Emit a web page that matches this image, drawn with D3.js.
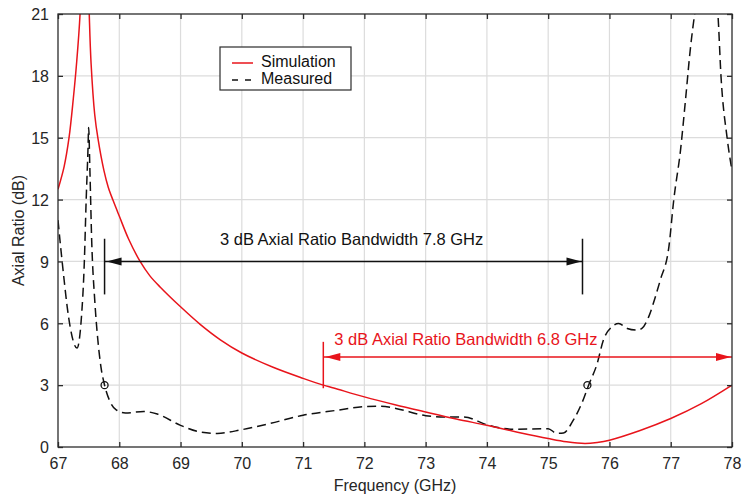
<!DOCTYPE html>
<html>
<head>
<meta charset="utf-8">
<script src="https://cdn.jsdelivr.net/npm/d3@7"></script>
<style>
  html, body { margin: 0; padding: 0; background: #fff; }
  svg { display: block; font-family: "Liberation Sans", Arial, sans-serif; }
</style>
</head>
<body>
<div id="chart"></div>
<script>
'use strict';

// frequency (GHz), axial ratio (dB)
const simFreq = [67.0, 67.1, 67.18, 67.25, 67.3, 67.36, 67.4, 67.44, 67.48, 67.51, 67.54, 67.6, 67.65, 67.75, 67.82, 67.9, 68.0, 68.15, 68.34, 68.5, 68.67, 69.0, 69.32, 69.65, 70.0, 70.5, 71.0, 71.33, 71.5, 72.0, 72.5, 73.0, 73.5, 74.0, 74.5, 75.0, 75.3, 75.6, 75.8, 76.0, 76.5, 77.0, 77.5, 78.0];
const simAR = [12.5, 13.6, 15.0, 16.9, 18.5, 21.0, 25.0, 28.0, 24.5, 21.0, 18.6, 16.1, 15.0, 13.4, 12.6, 11.95, 11.2, 10.1, 9.0, 8.3, 7.75, 6.8, 5.95, 5.2, 4.56, 3.88, 3.33, 3.0, 2.86, 2.43, 2.05, 1.7, 1.36, 1.05, 0.72, 0.41, 0.25, 0.17, 0.22, 0.33, 0.8, 1.38, 2.1, 3.0];

const measFreq = [67.0, 67.05, 67.1, 67.15, 67.2, 67.31, 67.38, 67.43, 67.46, 67.49, 67.5, 67.52, 67.55, 67.6, 67.65, 67.7, 67.76, 67.85, 67.95, 68.1, 68.4, 68.62, 69.0, 69.32, 69.6, 70.0, 70.46, 71.0, 71.55, 72.0, 72.26, 72.53, 73.0, 73.3, 73.62, 74.0, 74.44, 75.0, 75.14, 75.25, 75.41, 75.58, 75.66, 75.8, 75.9, 76.04, 76.15, 76.29, 76.45, 76.53, 76.64, 76.75, 76.83, 76.97, 77.05, 77.16, 77.24, 77.32, 77.4, 77.5, 77.6, 77.7, 77.77, 77.82, 77.92, 78.0];
const measAR = [11.0, 9.5, 8.1, 6.8, 5.8, 4.8, 6.2, 9.0, 12.0, 14.5, 15.5, 13.5, 10.0, 7.1, 5.2, 3.9, 3.0, 2.2, 1.8, 1.65, 1.72, 1.6, 1.05, 0.73, 0.66, 0.84, 1.14, 1.54, 1.78, 1.96, 1.98, 1.86, 1.52, 1.46, 1.46, 1.08, 0.86, 0.89, 0.66, 0.68, 1.3, 2.35, 3.0, 4.05, 5.18, 5.83, 5.99, 5.75, 5.67, 5.75, 6.31, 7.29, 8.1, 9.71, 12.0, 14.4, 16.8, 19.3, 21.2, 23.0, 23.5, 22.5, 21.0, 18.0, 15.0, 13.4];

const xTicks = [67, 68, 69, 70, 71, 72, 73, 74, 75, 76, 77, 78];
const yTicks = [0, 3, 6, 9, 12, 15, 18, 21];

// 3 dB crossing points (circles)
const crossFreq = [67.76, 75.64];
const crossAR = [3, 3];

// bandwidth annotations: [start, end] frequency, arrow level, tick span
const measBand = [67.76, 75.56];
const measBandLevel = 9;
const measBandTick = [7.4, 10.1];
const simBand = [71.33, 78.0];
const simBandLevel = 4.37;
const simBandTick = [2.85, 5.1];

const width = 745;
const height = 497;
const margin = { top: 14, right: 13, bottom: 50, left: 58 };
const chartWidth = width - margin.left - margin.right;
const chartHeight = height - margin.top - margin.bottom;

const svg = d3.select('#chart')
    .append('svg')
    .attr('width', width)
    .attr('height', height);

const chart = svg.append('g')
    .attr('transform', `translate(${margin.left},${margin.top})`);

const xScale = d3.scaleLinear().domain([67, 78]).range([0, chartWidth]);
const yScale = d3.scaleLinear().domain([0, 21]).range([chartHeight, 0]);

svg.append('defs').append('clipPath')
    .attr('id', 'plot-clip')
    .append('rect')
    .attr('width', chartWidth)
    .attr('height', chartHeight);

// grid
chart.append('g')
    .selectAll('line')
    .data(xTicks.slice(1, -1))
    .join('line')
    .attr('x1', d => xScale(d)).attr('x2', d => xScale(d))
    .attr('y1', 0).attr('y2', chartHeight)
    .attr('stroke', '#dcdcdc').attr('stroke-width', 1.2);

chart.append('g')
    .selectAll('line')
    .data(yTicks.slice(1, -1))
    .join('line')
    .attr('x1', 0).attr('x2', chartWidth)
    .attr('y1', d => yScale(d)).attr('y2', d => yScale(d))
    .attr('stroke', '#dcdcdc').attr('stroke-width', 1.2);

// curves
const simData = simFreq.map((f, i) => [f, simAR[i]]);
const measData = measFreq.map((f, i) => [f, measAR[i]]);

const measLine = d3.line()
    .x(d => xScale(d[0]))
    .y(d => yScale(d[1]))
    .curve(d3.curveMonotoneX);

const simLine = d3.line()
    .x(d => xScale(d[0]))
    .y(d => yScale(d[1]))
    .curve(d3.curveCatmullRom.alpha(0.5));

const plot = chart.append('g').attr('clip-path', 'url(#plot-clip)');

plot.append('path')
    .datum(measData)
    .attr('d', measLine)
    .attr('fill', 'none')
    .attr('stroke', '#111')
    .attr('stroke-width', 1.5)
    .attr('stroke-dasharray', '9,5');

plot.append('path')
    .datum(simData)
    .attr('d', simLine)
    .attr('fill', 'none')
    .attr('stroke', '#e8141b')
    .attr('stroke-width', 1.5);

chart.selectAll('circle.cross')
    .data(crossFreq)
    .join('circle')
    .attr('class', 'cross')
    .attr('cx', d => xScale(d))
    .attr('cy', (d, i) => yScale(crossAR[i]))
    .attr('r', 3.5)
    .attr('fill', 'none')
    .attr('stroke', '#111')
    .attr('stroke-width', 1.3);

// bandwidth annotations
function drawBand(band, level, tick, colour, label, labelX, labelDy) {
    const g = chart.append('g');
    const x0 = xScale(band[0]);
    const x1 = xScale(band[1]);
    const y = yScale(level);
    const headLen = 15;
    const headHalf = 4;
    g.append('line')
        .attr('x1', x0).attr('x2', x1)
        .attr('y1', y).attr('y2', y)
        .attr('stroke', colour).attr('stroke-width', 1.5);
    g.append('path')
        .attr('d', `M${x0 + 2},${y}L${x0 + 2 + headLen},${y - headHalf}L${x0 + 2 + headLen},${y + headHalf}Z`)
        .attr('fill', colour);
    g.append('path')
        .attr('d', `M${x1 - 1},${y}L${x1 - 1 - headLen},${y - headHalf}L${x1 - 1 - headLen},${y + headHalf}Z`)
        .attr('fill', colour);
    g.append('line')
        .attr('x1', x0).attr('x2', x0)
        .attr('y1', yScale(tick[0])).attr('y2', yScale(tick[1]))
        .attr('stroke', colour).attr('stroke-width', 1.5);
    if (band[1] < 78) {
        g.append('line')
            .attr('x1', x1).attr('x2', x1)
            .attr('y1', yScale(tick[0])).attr('y2', yScale(tick[1]))
            .attr('stroke', colour).attr('stroke-width', 1.5);
    }
    g.append('text')
        .attr('x', labelX)
        .attr('y', y + labelDy)
        .attr('font-size', 16.5)
        .attr('fill', colour)
        .text(label);
}

drawBand(measBand, measBandLevel, measBandTick, '#111',
    '3 dB Axial Ratio Bandwidth 7.8 GHz', 220 - margin.left, -16);
drawBand(simBand, simBandLevel, simBandTick, '#e8141b',
    '3 dB Axial Ratio Bandwidth 6.8 GHz',
    xScale(simBand[0]) + 11, -12);

// frame
chart.append('rect')
    .attr('width', chartWidth)
    .attr('height', chartHeight)
    .attr('fill', 'none')
    .attr('stroke', '#2b2b2b')
    .attr('stroke-width', 1.3);

// axes with inward ticks
const xAxis = d3.axisBottom(xScale).tickValues(xTicks).tickSize(-5).tickPadding(11).tickFormat(d3.format('d'));
const yAxis = d3.axisLeft(yScale).tickValues(yTicks).tickSize(-5).tickPadding(9).tickFormat(d3.format('d'));

const gx = chart.append('g')
    .attr('transform', `translate(0,${chartHeight})`)
    .call(xAxis);
const gy = chart.append('g').call(yAxis);
const gxTop = chart.append('g').call(d3.axisTop(xScale).tickValues(xTicks).tickSize(-5).tickFormat(''));
const gyRight = chart.append('g')
    .attr('transform', `translate(${chartWidth},0)`)
    .call(d3.axisRight(yScale).tickValues(yTicks).tickSize(-5).tickFormat(''));

[gx, gy, gxTop, gyRight].forEach(g => {
    g.select('.domain').remove();
    g.selectAll('line').attr('stroke', '#2b2b2b').attr('stroke-width', 1.3);
    g.selectAll('text')
        .attr('font-size', 16)
        .attr('font-family', '"Liberation Sans", Arial, sans-serif')
        .attr('fill', '#262626');
});
gy.selectAll('text').attr('dy', '0.36em');

svg.append('text')
    .attr('x', margin.left + chartWidth / 2)
    .attr('y', height - 6)
    .attr('text-anchor', 'middle')
    .attr('font-size', 16)
    .attr('fill', '#262626')
    .text('Frequency (GHz)');

svg.append('text')
    .attr('transform', 'rotate(-90)')
    .attr('x', -(margin.top + chartHeight / 2))
    .attr('y', 24)
    .attr('text-anchor', 'middle')
    .attr('font-size', 16)
    .attr('fill', '#262626')
    .text('Axial Ratio (dB)');

// legend
const legend = svg.append('g').attr('transform', 'translate(220,47)');
legend.append('rect')
    .attr('width', 131)
    .attr('height', 43)
    .attr('fill', '#fff')
    .attr('stroke', '#2b2b2b')
    .attr('stroke-width', 1.2);
legend.append('line')
    .attr('x1', 12).attr('x2', 33)
    .attr('y1', 16).attr('y2', 16)
    .attr('stroke', '#e8141b').attr('stroke-width', 1.5);
legend.append('line')
    .attr('x1', 12).attr('x2', 33)
    .attr('y1', 33).attr('y2', 33)
    .attr('stroke', '#111').attr('stroke-width', 1.5)
    .attr('stroke-dasharray', '6,7');
legend.append('text')
    .attr('x', 41).attr('y', 20)
    .attr('font-size', 16).attr('fill', '#111')
    .text('Simulation');
legend.append('text')
    .attr('x', 41).attr('y', 37)
    .attr('font-size', 16).attr('fill', '#111')
    .text('Measured');
</script>
</body>
</html>
